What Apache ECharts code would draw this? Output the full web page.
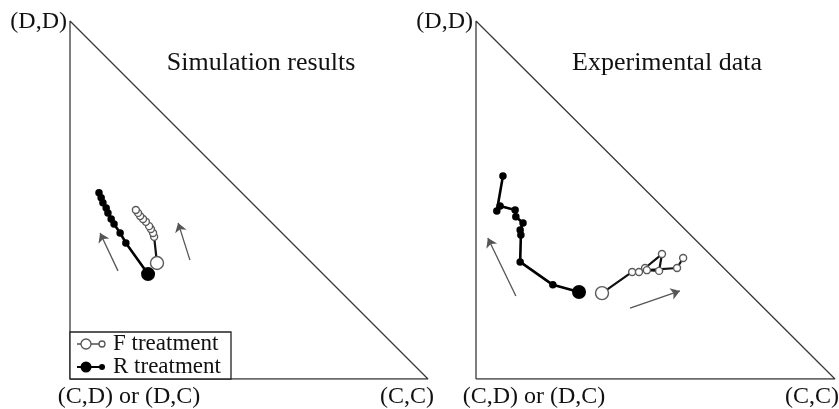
<!DOCTYPE html>
<html><head><meta charset="utf-8">
<script src="https://cdn.jsdelivr.net/npm/echarts@6/dist/echarts.min.js"></script>
<style>html,body{margin:0;padding:0;background:#fff}#c{width:839px;height:409px}</style>
</head><body><div id="c"></div>
<script>
// Simplex coordinates: x = share toward (C,C), y = share toward (D,D)
const panelTitles = ['Simulation results', 'Experimental data'];
const vertexLabels = ['(D,D)', '(C,D) or (D,C)', '(C,C)'];
const legendNames = ['F treatment', 'R treatment'];
const simplexEdge = [[0, 0], [0, 1], [1, 0], [0, 0]];

// Simulation results
const simF = [[0.243,0.324],[0.235,0.397],[0.232,0.408],[0.226,0.419],[0.221,0.427],[0.212,0.439],[0.204,0.447],[0.196,0.455],[0.190,0.464],[0.184,0.472]];
const simR = [[0.218,0.293],[0.156,0.380],[0.140,0.408],[0.123,0.433],[0.115,0.447],[0.106,0.464],[0.101,0.478],[0.092,0.492],[0.087,0.506],[0.081,0.520]];
const simArrows = [[[0.134,0.302],[0.084,0.408]], [[0.335,0.332],[0.302,0.436]]];

// Experimental data
const expF = [[0.351,0.240],[0.435,0.299],[0.454,0.299],[0.471,0.310],[0.518,0.349],[0.510,0.302],[0.476,0.304],[0.560,0.310],[0.577,0.338]];
const expR = [[0.287,0.243],[0.214,0.263],[0.123,0.327],[0.125,0.402],[0.123,0.416],[0.131,0.436],[0.111,0.453],[0.109,0.472],[0.067,0.483],[0.058,0.469],[0.075,0.567]];
const expArrows = [[[0.111,0.232],[0.033,0.394]], [[0.429,0.198],[0.568,0.246]]];

const FONT = '"Liberation Serif", "DejaVu Serif", serif';
const chart = echarts.init(document.getElementById('c'), null, {renderer: 'canvas'});

function axes(i) {
  return {
    x: {type: 'value', min: 0, max: 1, show: false, gridIndex: i},
    y: {type: 'value', min: 0, max: 1, show: false, gridIndex: i}
  };
}
const a0 = axes(0), a1 = axes(1);

function edgeSeries(i) {
  return {type: 'line', xAxisIndex: i, yAxisIndex: i, data: simplexEdge, symbol: 'none',
    lineStyle: {color: '#3a3a3a', width: 1.3}, silent: true, z: 1};
}
function fSeries(i, data) {
  return {type: 'line', name: legendNames[0], xAxisIndex: i, yAxisIndex: i, data: data,
    symbol: 'circle', symbolSize: (v, p) => p.dataIndex === 0 ? 13 : 7,
    itemStyle: {color: '#fff', borderColor: '#5a5a5a', borderWidth: 1.4},
    lineStyle: {color: '#111', width: 2.2}, z: 3};
}
function rSeries(i, data) {
  return {type: 'line', name: legendNames[1], xAxisIndex: i, yAxisIndex: i, data: data,
    symbol: 'circle', symbolSize: (v, p) => p.dataIndex === 0 ? 14 : 7.5,
    itemStyle: {color: '#000', borderWidth: 0},
    lineStyle: {color: '#000', width: 2.6}, z: 4};
}
function arrowSeries(i, arr) {
  return {type: 'lines', coordinateSystem: 'cartesian2d', xAxisIndex: i, yAxisIndex: i,
    data: arr.map(c => ({coords: c})), symbol: ['none', 'arrow'], symbolSize: 9,
    lineStyle: {color: '#555', width: 1.3, opacity: 1}, silent: true, z: 2};
}
function txt(t, x, y, size, align) {
  return {type: 'text', x: x, y: y, style: {text: t, font: size + 'px ' + FONT,
    fill: '#111', align: align || 'left', verticalAlign: 'middle'}, z: 10};
}

chart.setOption({
  animation: false,
  backgroundColor: '#fff',
  grid: [
    {left: 70, top: 21, width: 358, height: 358},
    {left: 476, top: 21, width: 359, height: 358}
  ],
  xAxis: [a0.x, a1.x],
  yAxis: [a0.y, a1.y],
  series: [
    edgeSeries(0), edgeSeries(1),
    arrowSeries(0, simArrows), arrowSeries(1, expArrows),
    fSeries(0, simF), rSeries(0, simR),
    fSeries(1, expF), rSeries(1, expR)
  ],
  graphic: [
    txt(panelTitles[0], 261, 63, 26, 'center'),
    txt(panelTitles[1], 667, 63, 26, 'center'),
    txt(vertexLabels[0], 67, 22, 24, 'right'),
    txt(vertexLabels[0], 473, 22, 24, 'right'),
    txt(vertexLabels[1], 129, 397, 24, 'center'),
    txt(vertexLabels[2], 407, 397, 24, 'center'),
    txt(vertexLabels[1], 534, 397, 24, 'center'),
    txt(vertexLabels[2], 812, 397, 24, 'center'),
    {type: 'rect', shape: {x: 70, y: 332, width: 161, height: 47},
      style: {fill: '#fff', stroke: '#222', lineWidth: 1.3}, z: 8},
    {type: 'line', shape: {x1: 77, y1: 344, x2: 104, y2: 344}, style: {stroke: '#333', lineWidth: 1.3}, z: 9},
    {type: 'circle', shape: {cx: 86, cy: 344, r: 5}, style: {fill: '#fff', stroke: '#555', lineWidth: 1.3}, z: 9},
    {type: 'circle', shape: {cx: 102, cy: 344, r: 3}, style: {fill: '#fff', stroke: '#555', lineWidth: 1.3}, z: 9},
    {type: 'line', shape: {x1: 77, y1: 367, x2: 104, y2: 367}, style: {stroke: '#000', lineWidth: 2}, z: 9},
    {type: 'circle', shape: {cx: 86, cy: 367, r: 5.5}, style: {fill: '#000'}, z: 9},
    {type: 'circle', shape: {cx: 102, cy: 367, r: 3}, style: {fill: '#000'}, z: 9},
    txt(legendNames[0], 113, 344, 23, 'left'),
    txt(legendNames[1], 113, 367, 23, 'left')
  ]
});
</script></body></html>
